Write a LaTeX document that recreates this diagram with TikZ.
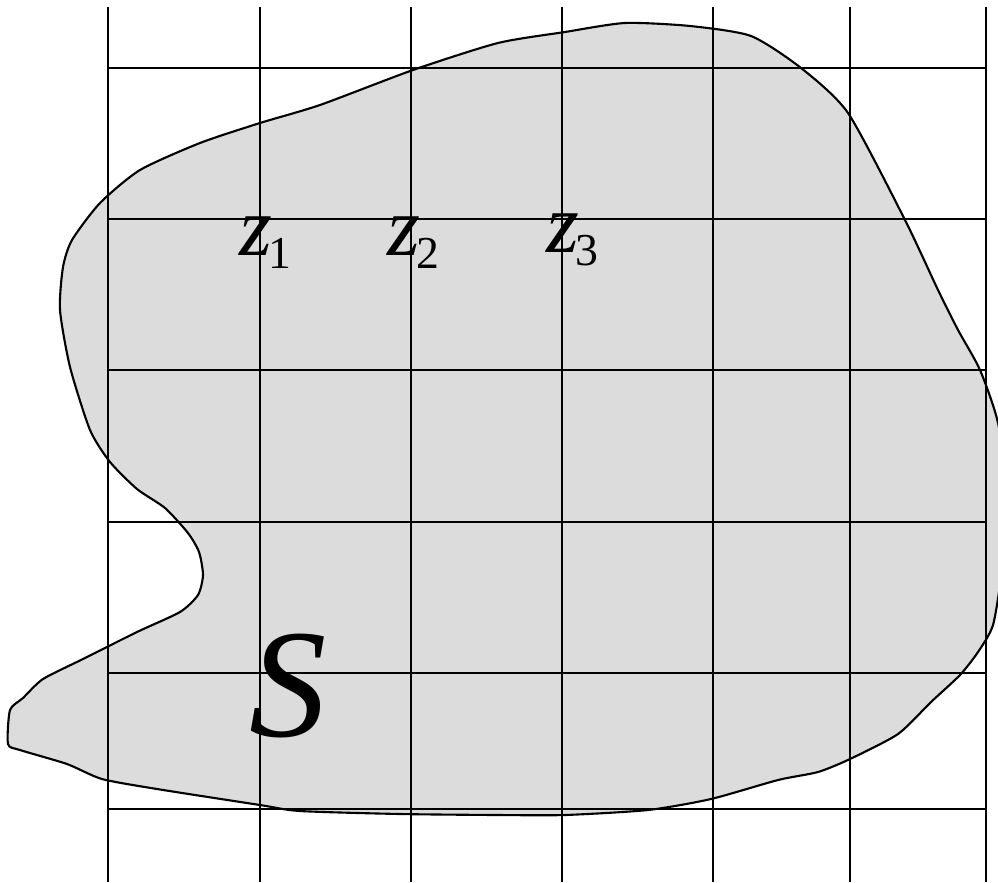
\documentclass[tikz,border=0pt]{standalone}
\usepackage{fontspec}
\setmainfont{Liberation Serif}
\definecolor{regiongray}{RGB}{220,220,220}
\newcommand{\zpt}[1]{{\fontsize{24}{24}\selectfont\itshape z}\kern-1pt\raisebox{-3.7pt}{\fontsize{13}{13}\selectfont #1}}
\begin{document}
\begin{tikzpicture}[x=0.01cm,y=-0.01cm,line width=0.6pt]
    \useasboundingbox (0,0) rectangle (998,882);
    \clip (0,0) rectangle (998,882);

    \filldraw[fill=regiongray,draw=black]
        plot[smooth cycle,tension=0.4]
        coordinates {(498,43) (565,32) (625,23) (690,26) (751,36) (801,68) (848,113) (905,220) (938,290) (958,330) (980,370) (998,423) (1008,500) (1002,570) (993,625) (978,652) (960,675) (931,702) (898,734) (850,759) (818,772) (778,780) (711,799) (648,810) (565,815) (498,815) (400,814) (300,811) (260,805) (157,789) (102,779) (67,764) (20,750) (8,744) (10,710) (23,698) (43,679) (83,659) (137,632) (180,612) (198,595) (203,575) (199,552) (188,533) (165,508) (137,489) (110,462) (90,430) (70,367) (60,310) (63,267) (72,240) (100,203) (140,170) (200,143) (260,123) (320,105) (413,70)};

    \foreach \x in {108,260,411,562,713,850,986}
        \draw (\x,7) -- (\x,882);
    \foreach \y in {68,219,370,522,673,809}
        \draw (108,\y) -- (986,\y);

    \node[anchor=base west,inner sep=0] (z1) at (238,255) {\zpt{1}};
    \node[anchor=base west,inner sep=0] (z2) at (386,255) {\zpt{2}};
    \node[anchor=base west,inner sep=0] (z3) at (545,252) {\zpt{3}};
    \node[inner sep=0] (S) at (288,686) {\fontsize{44}{44}\selectfont\itshape S};
\end{tikzpicture}
\end{document}
